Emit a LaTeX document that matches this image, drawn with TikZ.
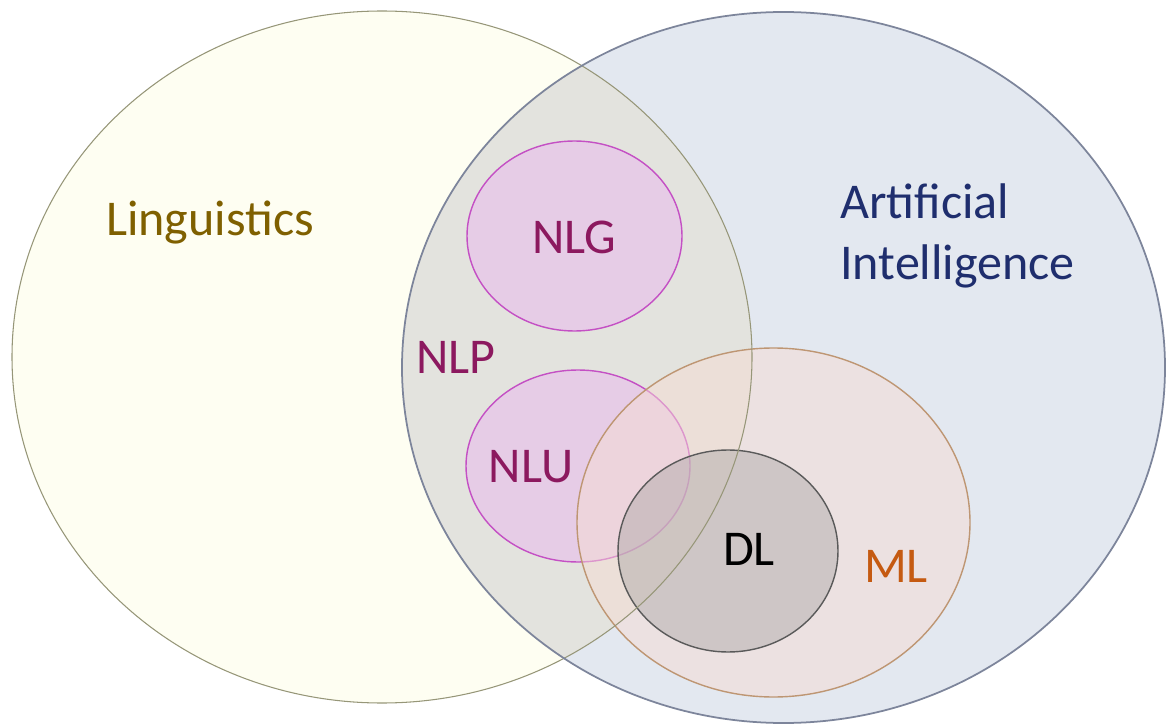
\documentclass[tikz,border=0pt]{standalone}
\usepackage{fontspec}
\setmainfont{Carlito}
\definecolor{aifill}{RGB}{227,232,240}
\definecolor{aiedge}{RGB}{125,133,155}
\definecolor{lingfill}{RGB}{254,254,242}
\definecolor{lingedge}{RGB}{150,150,120}
\definecolor{bothfill}{RGB}{227,227,222}
\definecolor{nlfill}{RGB}{233,183,238}
\definecolor{nledge}{RGB}{196,80,196}
\definecolor{mlfill}{RGB}{245,220,212}
\definecolor{mledge}{RGB}{190,150,115}
\definecolor{dlfill}{RGB}{178,172,172}
\definecolor{dledge}{RGB}{90,90,90}
\definecolor{lingtext}{RGB}{127,96,0}
\definecolor{aitext}{RGB}{31,46,110}
\definecolor{nltext}{RGB}{140,25,95}
\definecolor{mltext}{RGB}{197,90,17}
\tikzset{
  lbl/.style={font=\fontsize{28.5}{34.5}\selectfont, inner sep=0pt},
  subset/.style={fill opacity=0.5, line width=0.8pt}
}
\begin{document}
\begin{tikzpicture}[x=0.02cm,y=-0.02cm]
\useasboundingbox (0,0) rectangle (1167,726);
% the two large fields
\fill[aifill] (783.5,367.5) ellipse [x radius=381.5, y radius=355.5];
\fill[lingfill] (382,357) ellipse [x radius=370, y radius=346];
\begin{scope}
  \clip (783.5,367.5) ellipse [x radius=381.5, y radius=355.5];
  \fill[bothfill] (382,357) ellipse [x radius=370, y radius=346];
\end{scope}
% NLP subfields
\filldraw[subset, fill=nlfill, draw=nledge] (574.5,236) ellipse [x radius=107.5, y radius=95];
\filldraw[subset, fill=nlfill, draw=nledge] (578,466) ellipse [x radius=112, y radius=96];
% machine learning and deep learning
\filldraw[subset, fill=mlfill, draw=mledge] (773.5,522.5) ellipse [x radius=196.5, y radius=174.5];
\filldraw[subset, fill=dlfill, draw=dledge] (728,551) ellipse [x radius=110, y radius=101];
% outlines of the large fields
\draw[lingedge, line width=0.6pt] (382,357) ellipse [x radius=370, y radius=346];
\draw[aiedge, line width=1pt] (783.5,367.5) ellipse [x radius=381.5, y radius=355.5];
% labels
\node[lbl, text=lingtext] (ling) at (210,222) {Linguistics};
\node[lbl, text=aitext, align=left, anchor=west] (ai) at (840,236) {Artificial\\Intelligence};
\node[lbl, text=nltext] (nlg) at (574,237) {NLG};
\node[lbl, text=nltext] (nlp) at (456,357) {NLP};
\node[lbl, text=nltext] (nlu) at (531,467) {NLU};
\node[lbl, text=black] (dl) at (749,549) {DL};
\node[lbl, text=mltext] (ml) at (896,566) {ML};
\end{tikzpicture}
\end{document}
